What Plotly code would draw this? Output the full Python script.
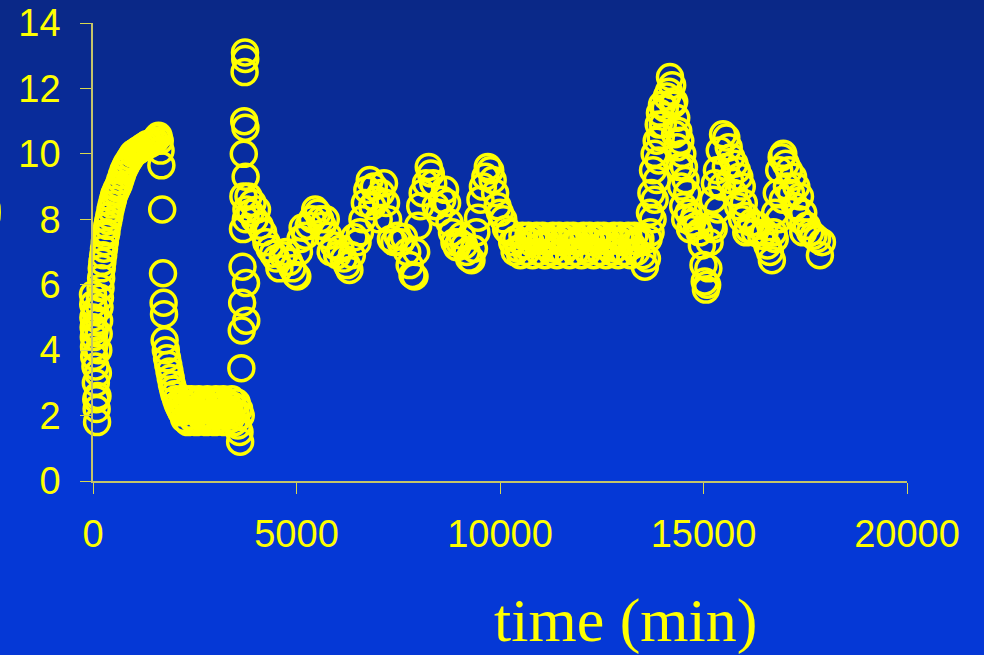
import plotly.graph_objects as go

# ---- data, one small array per stretch of the record ----
t_start = [0, 5, 10, 15, 20, 25, 30, 40, 50, 60, 70, 80, 90, 100, 110, 120, 130, 140, 150, 160, 170]
do_start = [5.7, 5.4, 5.0, 4.7, 4.4, 4.1, 3.8, 4.6, 5.2, 3.5, 3.0, 2.5, 2.2, 1.8, 2.6, 3.3, 4.0, 4.5, 4.9, 5.3, 5.6]

t_rise = [185, 200, 215, 230, 250, 270, 290, 310, 330, 350, 375, 400, 430, 460, 490, 520, 555, 590, 630,
          670, 710, 750, 790, 830, 880, 930, 980, 1040, 1100, 1160, 1220, 1280, 1340, 1400, 1460, 1520,
          1570, 1610, 1640, 1660, 1680]
do_rise = [5.9, 6.2, 6.5, 6.7, 6.9, 7.1, 7.3, 7.5, 7.6, 7.8, 7.95, 8.1, 8.3, 8.45, 8.6, 8.75, 8.85, 8.95, 9.05,
           9.2, 9.35, 9.5, 9.6, 9.7, 9.8, 9.9, 10.0, 10.05, 10.1, 10.15, 10.2, 10.25, 10.3, 10.3, 10.35, 10.4,
           10.5, 10.55, 10.4, 10.1, 9.65]

t_drop = [1700, 1720, 1735, 1745, 1760, 1790, 1820, 1850, 1880, 1910, 1940, 1970, 2000, 2040, 2080, 2120, 2160]
do_drop = [8.3, 6.35, 5.45, 5.1, 4.3, 4.0, 3.75, 3.55, 3.35, 3.15, 2.95, 2.8, 2.65, 2.5, 2.35, 2.25, 2.15]

t_low = [2180, 2210, 2240, 2270, 2300, 2330, 2360, 2390, 2420, 2450, 2480, 2510, 2540, 2570, 2600, 2630,
         2660, 2690, 2720, 2750, 2780, 2810, 2840, 2870, 2900, 2930, 2960, 2990, 3020, 3050, 3080, 3110,
         3140, 3170, 3200, 3230, 3260, 3290, 3320, 3350, 3380, 3410, 3440, 3470, 3500, 3530, 3560, 3590]
do_low = [2.1, 2.4, 1.9, 2.2, 2.5, 1.8, 2.3, 2.0, 2.5, 1.9, 2.2, 2.4, 1.8, 2.1, 2.5, 2.0,
          2.3, 1.9, 2.4, 2.2, 1.8, 2.5, 2.0, 2.3, 1.9, 2.4, 2.1, 1.8, 2.5, 2.2, 2.0, 2.4,
          1.9, 2.3, 2.5, 1.8, 2.1, 2.4, 2.0, 2.2, 1.9, 2.5, 2.3, 1.8, 2.1, 2.4, 1.7, 2.2]

t_spike = [3600, 3615, 3630, 3645, 3655, 3665, 3675, 3685, 3695, 3705, 3715, 3725, 3735, 3740, 3745, 3750,
           3755, 3760, 3765, 3770]
do_spike = [1.5, 1.2, 2.0, 3.45, 4.6, 5.45, 6.55, 7.7, 8.7, 10.0, 11.0, 12.5, 13.1, 12.9, 10.8, 9.3,
            8.0, 6.05, 4.9, 8.3]

t_mid = [3820, 3870, 3920, 3970, 4030, 4100, 4180, 4260, 4340, 4420, 4500, 4580, 4660, 4740, 4820, 4900,
         4980, 5020, 5060, 5100, 5150, 5220, 5300, 5380, 5460, 5520, 5580, 5640, 5720, 5780, 5840, 5920,
         6000, 6080, 6160, 6240, 6300, 6360, 6420, 6500, 6560, 6620, 6680, 6740, 6800, 6860, 6900, 6960,
         7020, 7080, 7150, 7200, 7250, 7320, 7400, 7480, 7560, 7640, 7720, 7780, 7850, 7900, 7940, 7990,
         8040, 8100, 8180, 8250, 8300, 8360, 8420, 8500, 8580, 8650, 8700, 8760, 8820, 8880, 8940, 9000,
         9060, 9120, 9180, 9240, 9300, 9360, 9420, 9460, 9520, 9580, 9640, 9700, 9760, 9820, 9880, 9940,
         10000, 10080, 10150, 10220, 10300, 10360]
do_mid = [8.7, 8.2, 8.5, 8.0, 8.3, 7.8, 7.6, 7.3, 7.1, 6.95, 6.8, 6.5, 6.9, 7.0, 6.7, 6.5,
          6.3, 6.25, 7.0, 7.4, 7.75, 7.5, 7.8, 8.0, 8.3, 8.2, 8.0, 7.8, 8.0, 7.5, 7.0, 7.2,
          6.9, 7.1, 6.8, 6.6, 6.45, 6.9, 7.45, 7.3, 7.6, 8.0, 8.5, 8.9, 9.2, 8.4, 9.0, 8.6,
          8.0, 8.8, 9.1, 8.5, 8.0, 7.4, 7.3, 7.5, 7.3, 7.45, 7.0, 6.6, 6.3, 6.25, 7.0, 7.8,
          8.4, 8.8, 9.1, 9.6, 9.4, 9.1, 8.4, 8.2, 8.6, 8.9, 8.5, 7.9, 7.6, 7.3, 7.15, 7.3,
          7.5, 7.2, 7.0, 6.8, 6.75, 7.1, 7.6, 8.05, 8.6, 9.0, 9.3, 9.6, 9.5, 9.2, 8.8, 8.4,
          8.2, 8.0, 7.7, 7.6, 7.3, 7.0]

t_steady = [10400, 10450, 10500, 10550, 10600, 10650, 10700, 10750, 10800, 10850, 10900, 10950, 11000,
            11050, 11100, 11150, 11200, 11250, 11300, 11350, 11400, 11450, 11500, 11550, 11600, 11650,
            11700, 11750, 11800, 11850, 11900, 11950, 12000, 12050, 12100, 12150, 12200, 12250, 12300,
            12350, 12400, 12450, 12500, 12550, 12600, 12650, 12700, 12750, 12800, 12850, 12900, 12950,
            13000, 13050, 13100, 13150, 13200, 13250, 13300, 13350, 13400, 13450, 13500]
do_steady = [7.4, 7.1, 6.9, 7.5, 7.2, 7.0, 7.5, 7.3, 6.9, 7.4, 7.5, 7.0, 7.2,
             7.5, 6.9, 7.3, 7.4, 7.0, 7.5, 7.1, 6.9, 7.5, 7.3, 7.0, 7.4, 7.5,
             6.9, 7.2, 7.5, 7.0, 7.3, 7.4, 6.9, 7.5, 7.1, 7.0, 7.5, 7.3, 6.9,
             7.4, 7.5, 7.0, 7.2, 7.5, 6.9, 7.3, 7.4, 7.0, 7.5, 7.1, 6.9, 7.5,
             7.3, 7.0, 7.4, 7.5, 6.9, 7.2, 7.5, 7.0, 7.3, 7.4, 6.9]

t_late = [13560, 13610, 13650, 13685, 13700, 13720, 13750, 13760, 13800, 13800, 13850, 13850, 13900, 13900,
          13930, 13950, 13980, 14000, 14050, 14100, 14150, 14177, 14230, 14250, 14280, 14300, 14330, 14350,
          14380, 14400, 14430, 14450, 14480, 14500, 14520, 14550, 14560, 14600, 14630, 14670, 14720, 14780,
          14840, 14900, 14960, 15000, 15030, 15060, 15090, 15120, 15150, 15190, 15230, 15250, 15280, 15330,
          15350, 15400, 15450, 15480, 15550, 15560, 15620, 15650, 15680, 15750, 15760, 15820, 15850, 15880,
          15940, 15950, 15990, 16040, 16050, 16100, 16180, 16260, 16340, 16420, 16500, 16570, 16630, 16680,
          16720, 16750, 16760, 16800, 16850, 16860, 16920, 16950, 16960, 17020, 17050, 17100, 17150, 17200,
          17250, 17280, 17350, 17370, 17450, 17450, 17540, 17620, 17700, 17790, 17860, 17910]
do_late = [6.55, 6.8, 7.4, 8.2, 7.6, 8.8, 8.0, 9.5, 10.0, 8.6, 10.4, 9.2, 10.9, 9.8,
           11.25, 10.5, 11.5, 10.9, 11.4, 11.75, 11.9, 12.35, 12.1, 11.5, 11.6, 10.6, 11.1, 10.2,
           10.7, 9.6, 10.4, 9.0, 10.0, 8.4, 9.6, 8.0, 9.2, 8.8, 8.2, 7.7, 7.9, 8.1,
           7.8, 7.6, 7.2, 6.6, 6.1, 5.85, 6.0, 6.5, 7.3, 7.8, 8.6, 7.7, 9.1, 9.5,
           8.3, 10.1, 9.0, 10.6, 9.6, 10.5, 10.2, 9.2, 9.9, 8.8, 9.7, 9.5, 8.4, 9.3,
           9.0, 8.0, 8.5, 8.1, 7.6, 7.7, 7.9, 7.6, 7.8, 7.5, 7.6, 7.2, 7.0, 6.75,
           7.6, 7.4, 8.2, 8.8, 8.0, 9.5, 9.9, 8.6, 10.0, 9.7, 9.0, 9.5, 8.8, 9.3,
           8.4, 9.0, 8.0, 8.7, 8.2, 7.6, 7.8, 7.6, 7.5, 7.4, 6.9, 7.3]

time_min = t_start + t_rise + t_drop + t_low + t_spike + t_mid + t_steady + t_late
do_mg_l = do_start + do_rise + do_drop + do_low + do_spike + do_mid + do_steady + do_late

x_ticks = [0, 5000, 10000, 15000, 20000]
y_ticks = [0, 2, 4, 6, 8, 10, 12, 14]
x_title = "time (min)"
y_title = "DO (mg/L)"

# ---- layout geometry (pixels) ----
W, H = 984, 655
L, R, T, B = 93, 77, 23, 174
PW, PH = W - L - R, H - T - B

def px_to_paper_x(px):
    return (px - L) / PW

def py_to_paper_y(py):
    return (T + PH - py) / PH

YELLOW = "#ffff00"

fig = go.Figure()
fig.add_trace(go.Scatter(
    x=time_min, y=do_mg_l, mode="markers",
    marker=dict(symbol="circle-open", size=25, color=YELLOW,
                line=dict(width=3.5, color=YELLOW)),
    hoverinfo="skip", showlegend=False, cliponaxis=False,
))

# background gradient (dark navy at top -> bright blue lower down)
shapes = []
top = (10, 40, 134)
bot = (5, 56, 214)
n = 66
for i in range(n):
    y0 = i * 10
    y1 = y0 + 11
    f = min(1.0, (y0 + 5) / 470.0)
    c = tuple(round(top[k] + (bot[k] - top[k]) * f) for k in range(3))
    shapes.append(dict(
        type="rect", xref="paper", yref="paper", layer="below",
        x0=px_to_paper_x(-2), x1=px_to_paper_x(W + 2),
        y0=py_to_paper_y(min(y1, H + 2)), y1=py_to_paper_y(y0 - (2 if i == 0 else 0)),
        fillcolor="rgb(%d,%d,%d)" % c, line=dict(width=0),
    ))

axis_common = dict(
    showgrid=False, zeroline=False, showline=True, linecolor="#c4c46a", linewidth=1.5,
    ticks="outside", ticklen=11, tickwidth=1, tickcolor="#d8d850", automargin=False,
    tickfont=dict(family="Liberation Sans, Arial, sans-serif", size=38, color=YELLOW),
)

fig.update_layout(
    width=W, height=H,
    margin=dict(l=L, r=R, t=T, b=B, pad=0, autoexpand=False),
    paper_bgcolor="rgb(5,56,214)",
    plot_bgcolor="rgba(0,0,0,0)",
    shapes=shapes,
    xaxis=dict(range=[0, 20000], tickvals=x_ticks, ticktext=[str(v) for v in x_ticks],
               ticklabelstandoff=8, **axis_common),
    yaxis=dict(range=[0, 14], tickvals=y_ticks, ticktext=[str(v) for v in y_ticks],
               ticklabelstandoff=12, **axis_common),
    annotations=[
        dict(text=x_title, xref="paper", yref="paper",
             x=px_to_paper_x(625), y=py_to_paper_y(620), xanchor="center", yanchor="middle",
             showarrow=False,
             font=dict(family="Liberation Serif, Times New Roman, serif", size=62, color=YELLOW)),
        dict(text=y_title, xref="paper", yref="paper",
             x=px_to_paper_x(6), y=py_to_paper_y(206), xanchor="right", yanchor="middle",
             showarrow=False,
             font=dict(family="Liberation Serif, Times New Roman, serif", size=62, color=YELLOW)),
    ],
)

fig.write_html("out.html")
